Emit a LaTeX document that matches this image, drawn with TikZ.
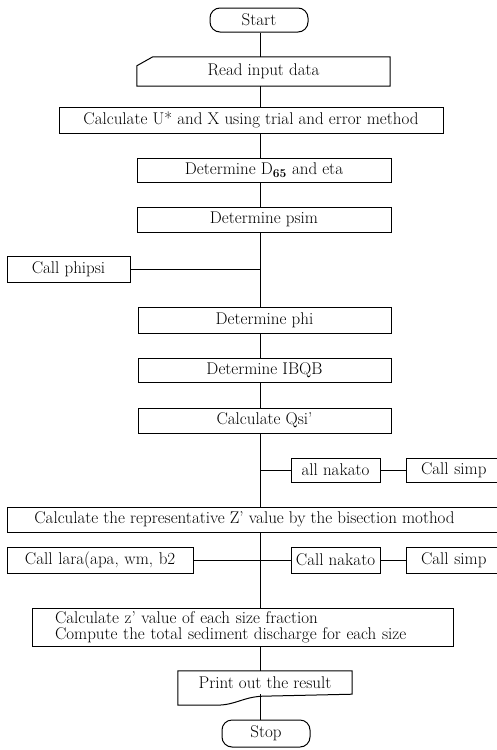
\documentclass[tikz,border=0pt]{standalone}
\usetikzlibrary{calc}
\begin{document}
\begin{tikzpicture}[x=1pt,y=-1pt,
  every node/.style={font=\fontsize{17}{19}\selectfont, inner sep=0pt},
  box/.style={draw, rectangle, line width=1pt},
  plain/.style={draw=none, rectangle},
  term/.style={draw, rectangle, rounded corners=10pt, line width=1pt},
  conn/.style={draw, line width=1pt}]
\useasboundingbox (0,0) rectangle (497,750);
\clip (0,0) rectangle (497,750);
\coordinate (spine) at (260,0);
% nodes
\node[term, minimum width=98pt, minimum height=24pt] (start) at (259,20) {Start};
\node[plain, minimum width=253pt, minimum height=29pt] (read) at (263.5,71.5) {Read input data};
\draw[line width=1pt] ($(read.south west)$) -- ($(read.north west)+(0,9)$) -- ($(read.north west)+(16,0)$) -- (read.north east) -- (read.south east) -- cycle;
\node[box, minimum width=384pt, minimum height=26pt] (calcu) at (251,120) {Calculate U* and X using trial and error method};
\node[box, minimum width=254pt, minimum height=24pt] (d65) at (264,170) {Determine D$_{\mathbf{65}}$ and eta};
\node[box, minimum width=254pt, minimum height=25pt] (psim) at (264,219.5) {Determine psim};
\node[box, minimum width=123pt, minimum height=26pt] (phipsi) at (68.5,269) {Call phipsi};
\node[box, minimum width=253pt, minimum height=26pt] (phi) at (264.5,320) {Determine phi};
\node[box, minimum width=253pt, minimum height=24pt] (ibqb) at (264.5,370) {Determine IBQB};
\node[box, minimum width=253pt, minimum height=25pt] (qsi) at (264.5,420.5) {Calculate Qsi'};
\node[box, minimum width=89pt, minimum height=24pt] (allnak) at (335.5,470) {all nakato};
\node[box, minimum width=99pt, minimum height=24pt, text width=99pt, align=left] (simpa) at (455.5,470) {\hspace{15pt}Call simp};
\node[box, minimum width=498pt, minimum height=25pt] (rep) at (256,519.5) {\hspace{-23pt}Calculate the representative Z' value by the bisection mothod};
\node[box, minimum width=186pt, minimum height=26pt, text width=168pt, inner xsep=9pt, align=left] (lara) at (100,560) {\hspace{9pt}Call lara(apa, wm, b2};
\node[box, minimum width=89pt, minimum height=26pt] (nakb) at (335.5,560) {Call nakato};
\node[box, minimum width=99pt, minimum height=26pt, text width=99pt, align=left] (simpb) at (455.5,560) {\hspace{15pt}Call simp};
\node[box, minimum width=421pt, minimum height=38pt, text width=375pt, inner xsep=23pt, align=left, font=\fontsize{17}{16}\selectfont] (zbox) at (242.5,627) {Calculate z' value of each size fraction\\Compute the total sediment discharge for each size};
\node[plain, minimum width=174pt, minimum height=23pt] (print) at (265,682.5) {Print out the result};
\draw[line width=1pt] (print.north west) -- (print.north east) -- (print.south east)
  -- ($(print.south east)+(-90,2)$) .. controls ($(print.south east)+(-110,3)$) and ($(print.south west)+(58,11)$) .. ($(print.south west)+(38,11)$)
  -- ($(print.south west)+(0,11)$) -- cycle;
\node[term, minimum width=88pt, minimum height=27pt] (stop) at (266,733.5) {Stop};
% connectors
\draw[conn] (start.south -| spine) -- (read.north -| spine);
\draw[conn] (read.south -| spine) -- (calcu.north -| spine);
\draw[conn] (calcu.south -| spine) -- (d65.north -| spine);
\draw[conn] (d65.south -| spine) -- (psim.north -| spine);
\draw[conn] (psim.south -| spine) -- (phi.north -| spine);
\draw[conn] (phipsi.east) -- (phipsi.east -| spine);
\draw[conn] (phi.south -| spine) -- (ibqb.north -| spine);
\draw[conn] (ibqb.south -| spine) -- (qsi.north -| spine);
\draw[conn] (qsi.south -| spine) -- (rep.north -| spine);
\draw[conn] (allnak.west -| spine) -- (allnak.west);
\draw[conn] (allnak.east) -- (simpa.west);
\draw[conn] (rep.south -| spine) -- (zbox.north -| spine);
\draw[conn] (lara.east) -- (nakb.west);
\draw[conn] (nakb.east) -- (simpb.west);
\draw[conn] (zbox.south -| spine) -- (print.north -| spine);
\draw[conn] (print.south -| spine) -- (stop.north -| spine);
\end{tikzpicture}
\end{document}
